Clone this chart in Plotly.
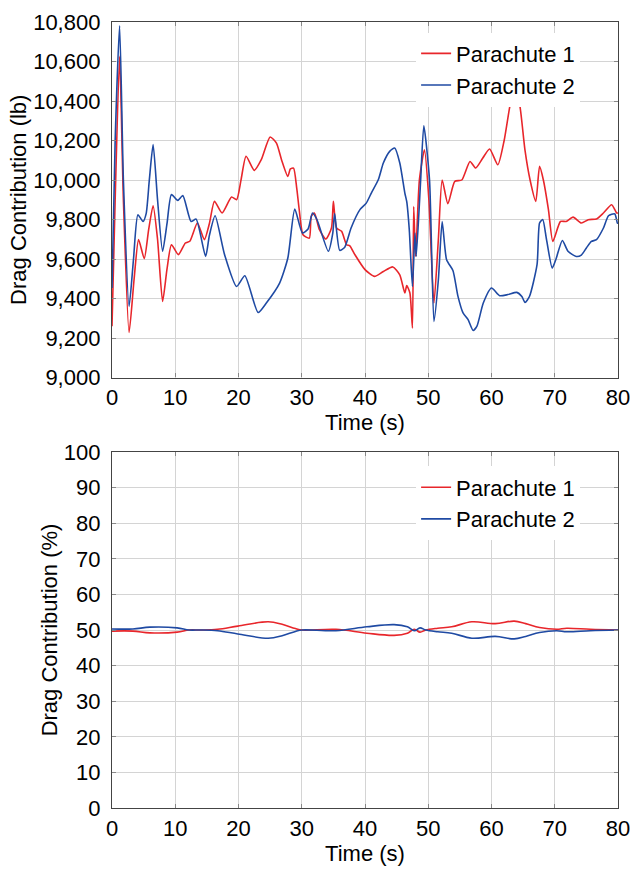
import plotly.graph_objects as go

# ---------------- data ----------------
# Top panel: drag contribution (lb)
t_p1 = [0, 0.5, 1.2, 1.8, 2.7, 3.5, 4.2, 5.1, 5.8, 6.5, 7.2, 8.0, 8.7, 9.4, 10.5, 11.6, 12.3,
        13.5, 14.6, 15.4, 16.2, 17.4, 18.9, 19.7, 20.4, 21.2, 22.5, 23.6, 25.0, 26.0, 26.8, 27.8,
        28.2, 28.7, 29.2, 29.6, 30.2, 31.2, 31.5, 32.0, 32.8, 33.8, 34.7, 35.0, 35.5, 36.3, 37.1,
        37.6, 38.4, 40.0, 41.5, 42.9, 44.4, 45.5, 46.3, 46.6, 47.1, 47.5, 47.7, 48.0, 48.6, 49.4,
        50.1, 50.9, 51.6, 52.2, 53.1, 54.2, 55.3, 56.6, 57.5, 58.6, 59.7, 61.0, 62.0, 62.9, 63.7,
        64.5, 65.3, 66.1, 67.0, 67.6, 68.2, 69.0, 69.7, 70.9, 71.8, 72.9, 74.2, 75.3, 76.6, 77.7,
        79.0, 79.8, 80.0]
p1_lb = [9259, 9900, 10626, 9900, 9228, 9500, 9698, 9602, 9750, 9870, 9700, 9385, 9550, 9672,
         9622, 9681, 9690, 9782, 9698, 9780, 9892, 9833, 9914, 9900, 10001, 10120, 10049, 10103,
         10218, 10187, 10103, 10018, 10056, 10060, 9960, 9850, 9723, 9706, 9816, 9833, 9748,
         9701, 9757, 9892, 9757, 9740, 9672, 9667, 9622, 9546, 9512, 9537, 9560, 9520, 9428,
         9465, 9428, 9250, 9866, 9613, 10001, 10153, 9900, 9377, 9700, 10000, 9880, 9993, 10000,
         10094, 10061, 10110, 10157, 10077, 10200, 10373, 10480, 10373, 10150, 10000, 9892,
         10069, 10000, 9850, 9689, 9790, 9790, 9812, 9782, 9799, 9803, 9833, 9875, 9833, 9833]

t_p2 = [0, 0.5, 1.2, 1.8, 2.7, 3.4, 4.1, 4.9, 5.4, 5.9, 6.5, 7.2, 8.0, 8.7, 9.4, 10.4, 11.2,
        12.5, 13.3, 14.8, 15.4, 16.3, 17.8, 19.7, 21.0, 23.1, 24.4, 26.5, 27.8, 28.9, 30.1,
        31.0, 31.7, 32.4, 34.2, 34.9, 35.2, 36.0, 36.8, 37.8, 39.2, 40.2, 41.0, 42.1, 42.9,
        43.9, 44.7, 45.5, 46.3, 46.6, 47.0, 47.5, 47.9, 48.1, 48.8, 49.3, 50.2, 50.9, 51.6,
        52.2, 52.9, 53.9, 54.7, 55.5, 56.3, 57.1, 57.7, 58.7, 60.0, 61.3, 62.6, 64.0, 64.8,
        65.3, 66.0, 67.2, 67.6, 68.1, 68.7, 69.6, 70.2, 71.2, 72.1, 73.4, 74.2, 75.0, 75.8,
        76.6, 77.7, 78.5, 79.5, 79.9, 80.0]
p2_lb = [9453, 10200, 10781, 10000, 9360, 9600, 9824, 9790, 9830, 10000, 10179, 9900, 9639,
         9780, 9926, 9897, 9921, 9790, 9802, 9613, 9720, 9819, 9622, 9461, 9515, 9329, 9377,
         9478, 9605, 9853, 9732, 9752, 9833, 9800, 9639, 9730, 9830, 9644, 9660, 9757, 9850,
         9883, 9934, 10001, 10086, 10145, 10162, 10086, 9934, 9890, 9748, 9461, 9732, 9613,
         10000, 10275, 10000, 9284, 9495, 9790, 9596, 9542, 9411, 9327, 9293, 9238, 9260, 9377,
         9453, 9414, 9420, 9431, 9410, 9380, 9410, 9571, 9782, 9800, 9698, 9554, 9600, 9694,
         9639, 9613, 9620, 9656, 9689, 9698, 9757, 9819, 9828, 9782, 9782]

# Bottom panel: drag contribution (%)
t_pct = [0, 3.3, 6.0, 10.3, 12.2, 14.0, 16.7, 19.9, 24.7, 26.9, 29.0, 30.1, 35.4, 40.3, 44.6,
         46.7, 47.8, 48.7, 49.6, 51.5, 53.7, 56.9, 60.6, 63.6, 65.4, 67.6, 70.3, 71.9, 75.6, 80.0]
p1_pct = [49.7, 49.7, 49.2, 49.4, 50.0, 50.0, 50.2, 51.1, 52.3, 51.6, 50.4, 50.0, 50.2, 49.1,
          48.5, 49.1, 50.2, 49.4, 50.0, 50.5, 50.9, 52.3, 51.8, 52.5, 51.8, 50.7, 50.2, 50.5,
          50.2, 50.0]
p2_pct = [50.3, 50.3, 50.8, 50.6, 50.0, 50.0, 49.8, 48.9, 47.7, 48.4, 49.6, 50.0, 49.8, 50.9,
          51.5, 50.9, 49.8, 50.6, 50.0, 49.5, 49.1, 47.7, 48.2, 47.5, 48.2, 49.3, 49.8, 49.5,
          49.8, 50.0]

x_ticks = [0, 10, 20, 30, 40, 50, 60, 70, 80]
y1_ticks = [9000, 9200, 9400, 9600, 9800, 10000, 10200, 10400, 10600, 10800]
y2_ticks = [0, 10, 20, 30, 40, 50, 60, 70, 80, 90, 100]

# ---------------- style ----------------
RED = "#e8262b"
BLUE = "#1f4aa3"
FONT = "Liberation Sans, Arial, Helvetica, sans-serif"
FS = 22
AXCOL = "#444444"
GRID = "#d4d4d4"

fig = go.Figure()
fig.add_trace(go.Scatter(x=t_p1, y=p1_lb, mode="lines", name="Parachute 1",
                         line=dict(color=RED, width=1.6, shape="spline", smoothing=0.6),
                         xaxis="x", yaxis="y", legend="legend"))
fig.add_trace(go.Scatter(x=t_p2, y=p2_lb, mode="lines", name="Parachute 2",
                         line=dict(color=BLUE, width=1.6, shape="spline", smoothing=0.6),
                         xaxis="x", yaxis="y", legend="legend"))
fig.add_trace(go.Scatter(x=t_pct, y=p1_pct, mode="lines", name="Parachute 1",
                         line=dict(color=RED, width=1.6, shape="spline", smoothing=1.0),
                         xaxis="x2", yaxis="y2", legend="legend2"))
fig.add_trace(go.Scatter(x=t_pct, y=p2_pct, mode="lines", name="Parachute 2",
                         line=dict(color=BLUE, width=1.6, shape="spline", smoothing=1.0),
                         xaxis="x2", yaxis="y2", legend="legend2"))

common_axis = dict(showline=True, linecolor=AXCOL, linewidth=1.3, mirror="ticks",
                   ticks="inside", ticklen=4, tickcolor="#888888", tickwidth=1,
                   showgrid=True, gridcolor=GRID, gridwidth=1, zeroline=False,
                   automargin=False,
                   tickfont=dict(family=FONT, size=FS, color="black"))

fig.update_layout(
    width=633, height=872,
    margin=dict(l=112, r=15, t=22, b=64),
    paper_bgcolor="white", plot_bgcolor="white",
    font=dict(family=FONT, size=FS, color="black"),
    xaxis=dict(domain=[0, 1], anchor="y", range=[0, 80], tickvals=x_ticks,
               title=dict(text="Time (s)", standoff=4, font=dict(size=FS)),
               ticklabelstandoff=0, **common_axis),
    yaxis=dict(domain=[0.5477, 1], anchor="x", range=[9000, 10800], tickvals=y1_ticks,
               tickformat=",d", title=dict(text="Drag Contribution (lb)", standoff=0,
                                           font=dict(size=FS)),
               ticklabelstandoff=6, **common_axis),
    xaxis2=dict(domain=[0, 1], anchor="y2", range=[0, 80], tickvals=x_ticks,
                title=dict(text="Time (s)", standoff=4, font=dict(size=FS)),
                ticklabelstandoff=0, **common_axis),
    yaxis2=dict(domain=[0, 0.4529], anchor="x2", range=[0, 100], tickvals=y2_ticks,
                title=dict(text="Drag Contribution (%)", standoff=0, font=dict(size=FS)),
                ticklabelstandoff=6, **common_axis),
    legend=dict(x=0.601, y=0.9865, xanchor="left", yanchor="top", bgcolor="white",
                borderwidth=0, font=dict(family=FONT, size=FS), tracegroupgap=0),
    legend2=dict(x=0.601, y=0.4345, xanchor="left", yanchor="top", bgcolor="white",
                 borderwidth=0, font=dict(family=FONT, size=FS), tracegroupgap=0),
    showlegend=True,
)

fig.write_html("out.html")
